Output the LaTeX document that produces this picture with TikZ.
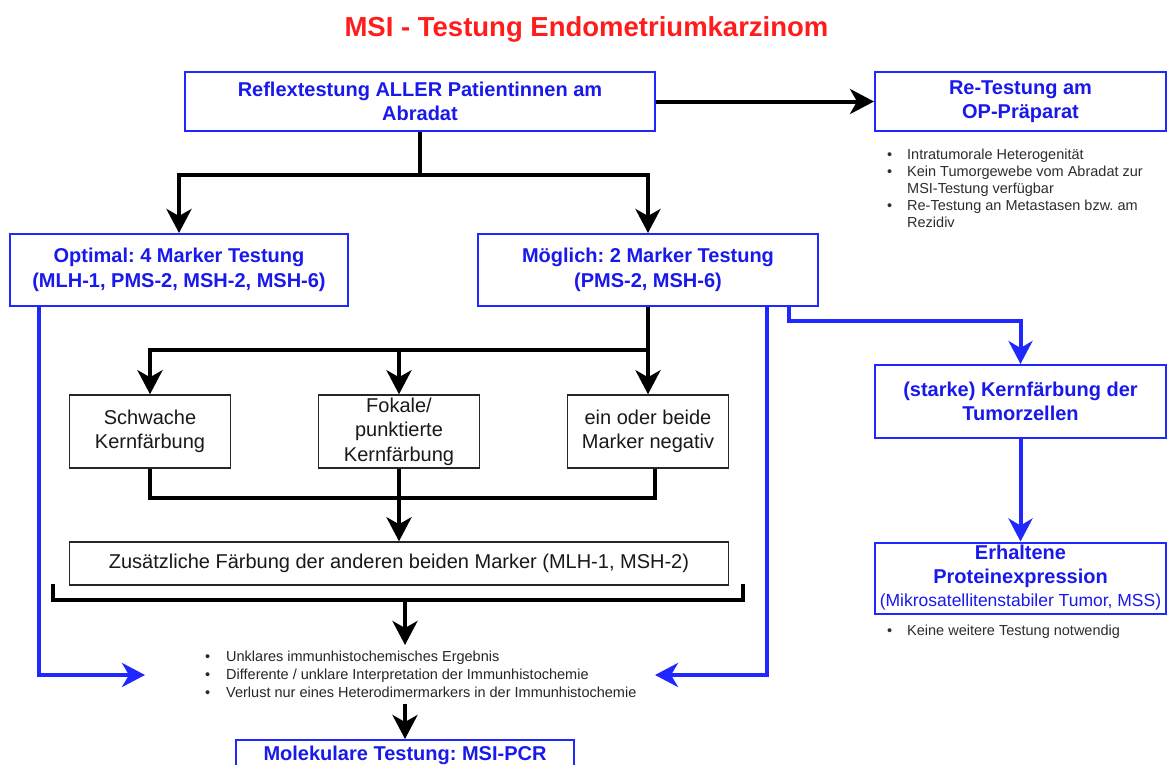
\documentclass[tikz,border=0pt]{standalone}
\usepackage{fontspec}
\setmainfont{Liberation Sans}
\usetikzlibrary{arrows.meta,calc}
\definecolor{txtblue}{RGB}{25,25,235}
\definecolor{lnblue}{RGB}{30,40,255}
\definecolor{ttlred}{RGB}{255,28,28}
\definecolor{bultxt}{RGB}{45,45,45}
\frenchspacing
\begin{document}
\begin{tikzpicture}[x=1pt,y=-1pt,
  bluebox/.style={draw=lnblue, line width=2pt, text=txtblue, font=\bfseries\fontsize{20}{24.5}\selectfont, align=center, inner sep=0pt},
  graybox/.style={draw=black!85, line width=1.5pt, text=black!90, font=\fontsize{20}{24.5}\selectfont, align=center, inner sep=0pt},
  blk/.style={line width=4pt, draw=black},
  blkarr/.style={blk, -{Stealth[length=24pt,width=25pt,inset=7pt]}},
  blu/.style={line width=4pt, draw=lnblue},
  bluarr/.style={blu, -{Stealth[length=23pt,width=24pt,inset=7pt]}},
  bul/.style={font=\fontsize{14.5}{17}\selectfont, text=bultxt, align=left, inner sep=0pt, anchor=north west}
]
\useasboundingbox[fill=white] (0,0) rectangle (1168,764);

\node[text=ttlred, font=\bfseries\fontsize{27.5}{30}\selectfont] (title) at (586.5,29.5) {MSI - Testung Endometriumkarzinom};

% blue boxes
\node[bluebox, minimum width=470pt, minimum height=59pt] (reflex) at (420,101.5) {Reflextestung ALLER Patientinnen am\\Abradat};
\node[bluebox, minimum width=291pt, minimum height=59pt] (retest) at (1020.5,101.5) {Re-Testung am\\OP-Präparat};
\node[bluebox, minimum width=338pt, minimum height=72pt] (optimal) at (179,270) {Optimal: 4 Marker Testung\\(MLH-1, PMS-2, MSH-2, MSH-6)};
\node[bluebox, minimum width=340pt, minimum height=72pt] (moeglich) at (648,270) {Möglich: 2 Marker Testung\\(PMS-2, MSH-6)};
\node[bluebox, minimum width=291pt, minimum height=73pt] (starke) at (1020.5,401.5) {(starke) Kernfärbung der\\Tumorzellen};
\node[bluebox, minimum width=291pt, minimum height=71pt, font=\bfseries\fontsize{20}{23.5}\selectfont] (erhalt) at (1020.5,578) {Erhaltene\\Proteinexpression\\{\mdseries\fontsize{17.5}{21}\selectfont (Mikrosatellitenstabiler Tumor, MSS)}};
\node[bluebox, minimum width=338pt, minimum height=30pt, anchor=north] (molek) at (405,739) {Molekulare Testung: MSI-PCR};

% gray boxes
\node[graybox, minimum width=161pt, minimum height=73pt] (schwach) at (150,431.5) {Schwache\\Kernfärbung};
\node[graybox, minimum width=161pt, minimum height=73pt] (fokal) at (399,431.5) {Fokale/\\punktierte\\Kernfärbung};
\node[graybox, minimum width=161pt, minimum height=73pt] (einoder) at (648,431.5) {ein oder beide\\Marker negativ};
\node[graybox, minimum width=659pt, minimum height=43pt] (zus) at (399,563.5) {Zusätzliche Färbung der anderen beiden Marker (MLH-1, MSH-2)};

% bullet lists
\node[bul] (retbul) at (887,149) {\makebox[20pt][l]{\textbullet}Intratumorale Heterogenität\\
\makebox[20pt][l]{\textbullet}Kein Tumorgewebe vom Abradat zur\\
\hspace*{20pt}MSI-Testung verfügbar\\
\makebox[20pt][l]{\textbullet}Re-Testung an Metastasen bzw. am\\
\hspace*{20pt}Rezidiv};
\node[bul] (erhbul) at (887,625) {\makebox[20pt][l]{\textbullet}Keine weitere Testung notwendig};
\node[bul, text=black!85, font=\fontsize{14.5}{18}\selectfont, inner ysep=6pt] (crit) at (205,645) {\makebox[21pt][l]{\textbullet}Unklares immunhistochemisches Ergebnis\\
\makebox[21pt][l]{\textbullet}Differente / unklare Interpretation der Immunhistochemie\\
\makebox[21pt][l]{\textbullet}Verlust nur eines Heterodimermarkers in der Immunhistochemie};

% coordinates
\coordinate (j1) at (420,175);
\coordinate (j2) at (648,350);
\coordinate (j3) at (399,498);
\coordinate (bl) at (53,584);
\coordinate (br) at (743,584);
\coordinate (bm) at (405,600);
\coordinate (lb) at (145,675);
\coordinate (rb) at (655,675);

% black connectors
\draw[blkarr] (reflex.east) -- (retest.west);
\draw[blk] (reflex.south) -- (j1);
\draw[blkarr] (j1) -| (optimal.north);
\draw[blkarr] (j1) -| (moeglich.north);
\draw[blkarr] (moeglich.south) -- (einoder.north);
\draw[blkarr] (j2) -| (schwach.north);
\draw[blkarr] (fokal.north |- j2) -- (fokal.north);
\draw[blk] (schwach.south) |- (j3) -| ([xshift=7pt]einoder.south);
\draw[blkarr] (fokal.south) -- (zus.north);
\draw[blk] (bl) |- (bm) -| (br);
\draw[blkarr] (bm) -- (bm |- crit.north);
\draw[blkarr] (bm |- crit.south) -- (molek.north);

% blue connectors
\draw[bluarr] ([xshift=30pt]optimal.south west) |- (lb);
\draw[bluarr] ([xshift=-52pt]moeglich.south east) |- (rb);
\draw[bluarr] ([xshift=-30pt]moeglich.south east) -- ++(0,14) -| (starke.north);
\draw[bluarr] (starke.south) -- (erhalt.north);
\end{tikzpicture}
\end{document}
